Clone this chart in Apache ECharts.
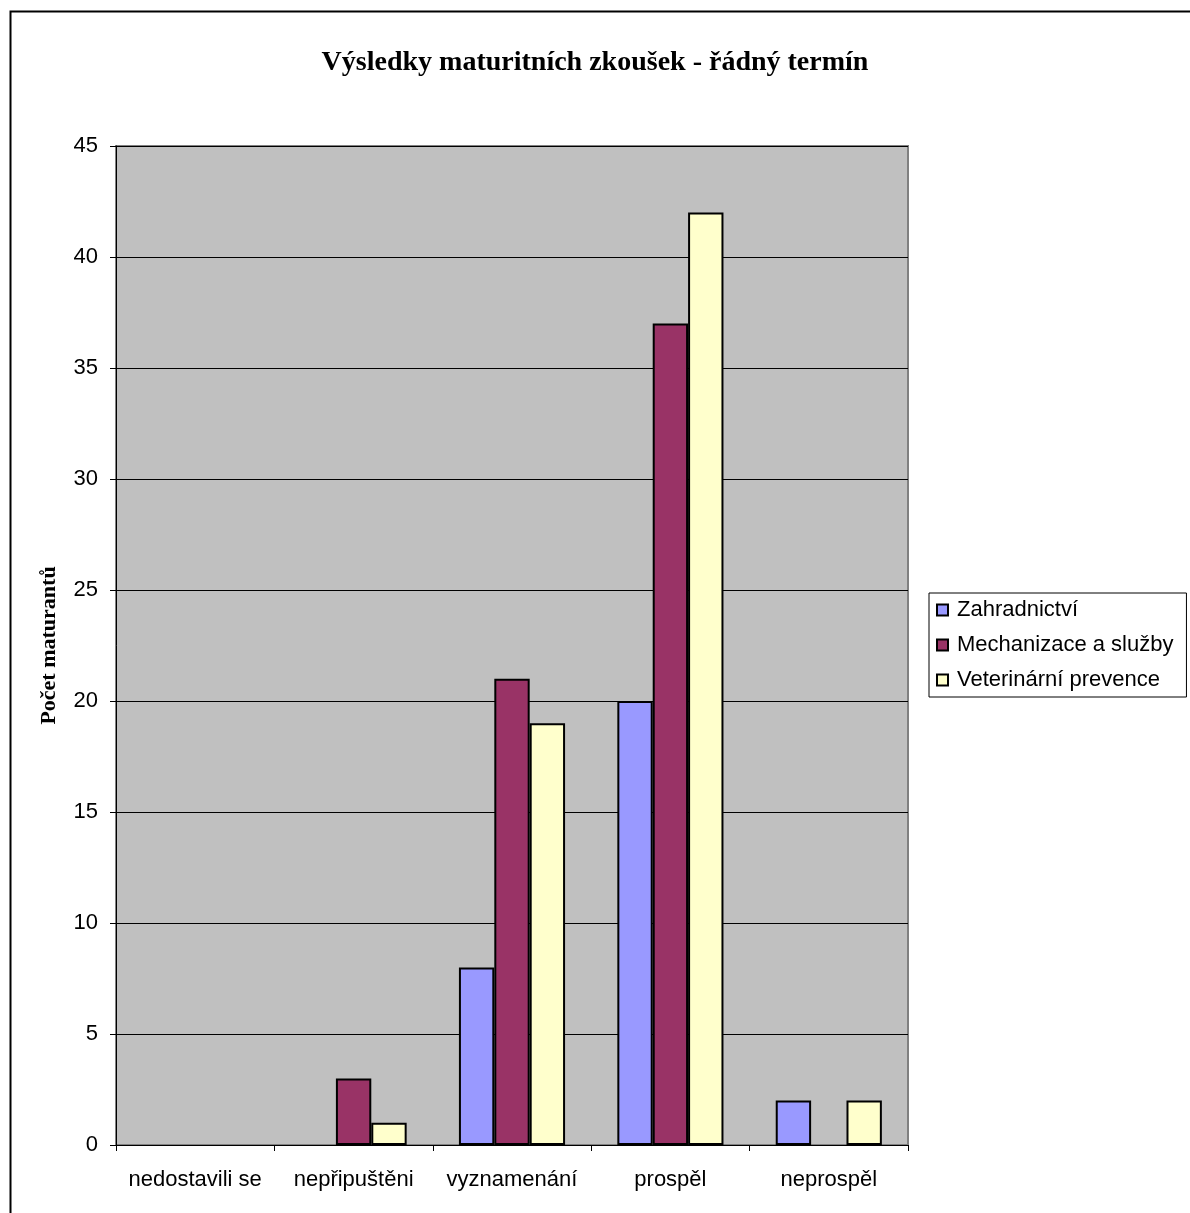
<!DOCTYPE html>
<html><head><meta charset="utf-8">
<script src="https://cdn.jsdelivr.net/npm/echarts@6/dist/echarts.min.js"></script>
<style>html,body{margin:0;padding:0;background:#fff}#c{width:1190px;height:1213px}</style>
</head><body><div id="c"></div>
<script>
const categories = ['nedostavili se', 'nepřipuštěni', 'vyznamenání', 'prospěl', 'neprospěl'];
const zahradnictvi = [0, 0, 8, 20, 2];
const mechanizace = [0, 3, 21, 37, 0];
const veterinarni = [0, 1, 19, 42, 2];
const seriesNames = ['Zahradnictví', 'Mechanizace a služby', 'Veterinární prevence'];
const colors = ['#9999FF', '#993366', '#FFFFCC'];

const chart = echarts.init(document.getElementById('c'), null, {renderer: 'canvas'});
const mk = (name, data, color) => ({
  name, type: 'bar', data: data.map(v => v === 0 ? '-' : v), barGap: '0%', barCategoryGap: '33%',
  itemStyle: {color, borderColor: '#000', borderWidth: 2},
  emphasis: {disabled: true}
});
chart.setOption({
  animation: false,
  backgroundColor: '#fff',
  title: {
    text: 'Výsledky maturitních zkoušek - řádný termín',
    left: 590, top: 44, textAlign: 'center',
    textStyle: {fontFamily: 'Liberation Serif', fontWeight: 'bold', fontSize: 28, color: '#000'}
  },
  legend: {
    orient: 'vertical', left: 929, top: 593,
    padding: [6, 13, 6, 7], itemGap: 13,
    itemWidth: 11, itemHeight: 11,
    borderColor: '#000', borderWidth: 1,
    icon: 'rect',
    textStyle: {fontFamily: 'Liberation Sans', fontSize: 22, color: '#000', padding: [0, 0, 0, 4]},
    itemStyle: {borderColor: '#000', borderWidth: 2},
    data: seriesNames
  },
  grid: {
    left: 116, top: 146, width: 792, height: 999,
    show: true, backgroundColor: '#C0C0C0', borderColor: '#808080', borderWidth: 2
  },
  xAxis: {
    type: 'category', data: categories,
    axisLine: {lineStyle: {color: '#000', width: 1}},
    axisTick: {show: true, length: 6, lineStyle: {color: '#000'}},
    axisLabel: {interval: 0, fontFamily: 'Liberation Sans', fontSize: 22, color: '#000', margin: 24}
  },
  yAxis: {
    type: 'value', min: 0, max: 45, interval: 5,
    name: 'Počet maturantů', nameLocation: 'middle', nameGap: 56,
    nameTextStyle: {fontFamily: 'Liberation Serif', fontWeight: 'bold', fontSize: 22, color: '#000'},
    axisLine: {show: true, lineStyle: {color: '#000', width: 1}},
    axisTick: {show: true, length: 6, lineStyle: {color: '#000'}},
    axisLabel: {fontFamily: 'Liberation Sans', fontSize: 22, color: '#000', margin: 18},
    splitLine: {show: true, lineStyle: {color: '#000', width: 1}}
  },
  graphic: [{
    type: 'rect', left: 8, top: 9, z: -1, silent: true,
    shape: {x: 0, y: 0, width: 1200, height: 1220},
    style: {fill: 'none', stroke: '#000', lineWidth: 2}
  }],
  series: [
    mk(seriesNames[0], zahradnictvi, colors[0]),
    mk(seriesNames[1], mechanizace, colors[1]),
    mk(seriesNames[2], veterinarni, colors[2])
  ]
});
</script></body></html>
